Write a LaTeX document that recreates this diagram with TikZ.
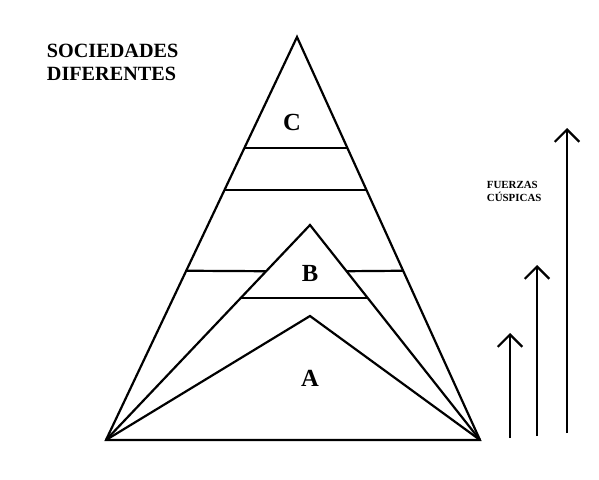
\documentclass[tikz,border=0pt]{standalone}
\usepackage{fontspec}
\setmainfont{Liberation Serif}
\usetikzlibrary{arrows.meta,calc}

\begin{document}
\begin{tikzpicture}[x=0.02cm,y=-0.02cm,line width=1.25pt,
  lbl/.style={font=\bfseries\fontsize{14}{14}\selectfont},
  force/.style={-{Straight Barb[length=7pt,width=14pt,line width=1.25pt]}}]
\useasboundingbox (0,0) rectangle (599,480);
% outer triangle
\coordinate (top) at (297,37);
\coordinate (bl) at (106,440);
\coordinate (br) at (480,440);
\draw[line join=miter] (bl) -- (top) -- (br) -- cycle;
% strata of C
\draw ($(top)!0.275!(bl)$) coordinate (c1l) -- ($(top)!0.275!(br)$) coordinate (c1r);
\draw ($(top)!0.38!(bl)$) coordinate (c2l) -- ($(top)!0.38!(br)$) coordinate (c2r);
% triangle B
\coordinate (btop) at (310,225);
\draw (bl) -- (btop) -- (br);
\draw ($(btop)!0.34!(bl)$) -- ($(btop)!0.34!(br)$);
\draw ($(top)!0.58!(bl)$) -- ($(btop)!0.215!(bl)$);
\draw ($(btop)!0.215!(br)$) -- ($(top)!0.58!(br)$);
% triangle A
\coordinate (atop) at (310,316);
\draw (bl) -- (atop) -- (br);
\node[lbl] (C) at (292,122) {C};
\node[lbl] (B) at (310,273) {B};
\node[lbl] (A) at (310,378) {A};
\node[font=\bfseries\fontsize{11.5}{13}\selectfont,align=left,anchor=north west]
  (soc) at (40,37) {SOCIEDADES\\DIFERENTES};
\node[font=\bfseries\fontsize{6.2}{7.5}\selectfont,align=left,anchor=north west]
  (fc) at (480,174) {FUERZAS\\CÚSPICAS};
% arrows
\draw[force] (510,438) -- (510,333);
\draw[force] (537,436) -- (537,265);
\draw[force] (567,433) -- (567,128);
\end{tikzpicture}
\end{document}
